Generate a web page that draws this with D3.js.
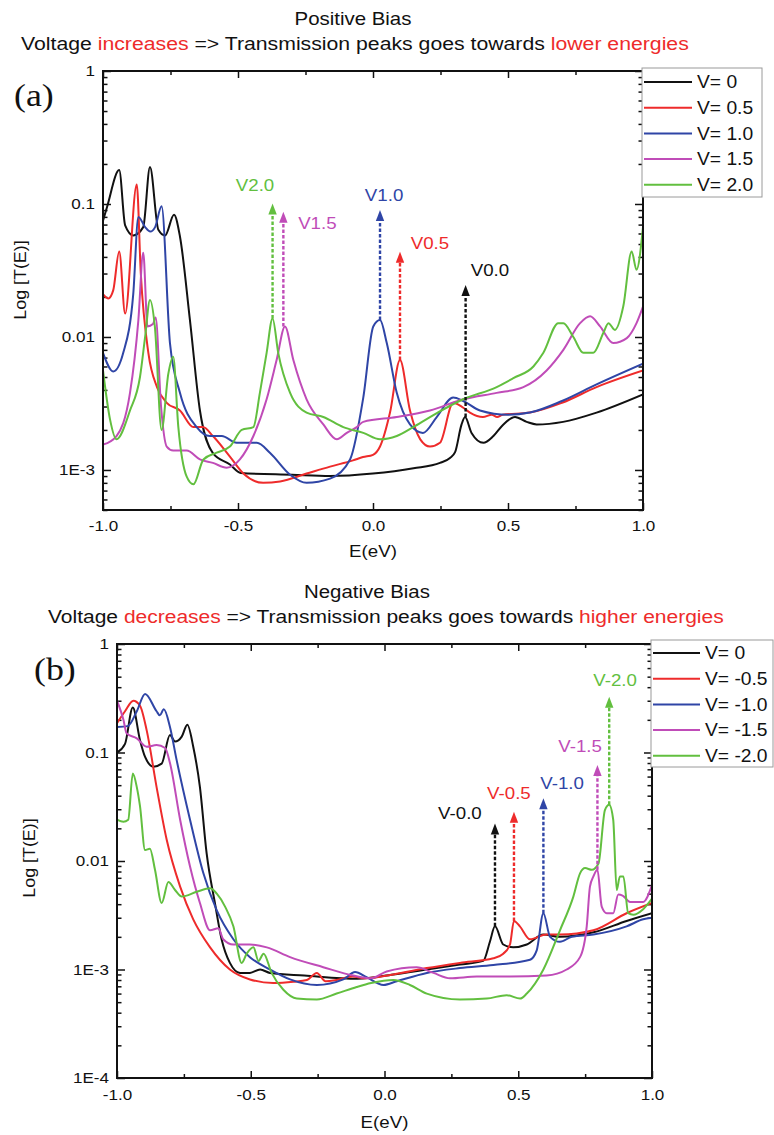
<!DOCTYPE html>
<html><head><meta charset="utf-8">
<script src="https://cdn.jsdelivr.net/npm/d3@7"></script>
<style>
body{margin:0;background:#fff}
svg{display:block}
</style>
</head><body>
<svg id="c" width="774" height="1135"></svg>
<script>
// ---------------- DATA ----------------
const xTickValues = [-1, -0.5, 0, 0.5, 1];
const xTickLabels = ["-1.0", "-0.5", "0.0", "0.5", "1.0"];
const xMinorValues = [-0.75, -0.25, 0.25, 0.75];
const posYTickValues = [1, 0.1, 0.01, 0.001];
const posYTickLabels = ["1", "0.1", "0.01", "1E-3"];
const negYTickValues = [1, 0.1, 0.01, 0.001, 0.0001];
const negYTickLabels = ["1", "0.1", "0.01", "1E-3", "1E-4"];
const posSeriesNames = ["V= 0", "V= 0.5", "V= 1.0", "V= 1.5", "V= 2.0"];
const negSeriesNames = ["V= 0", "V= -0.5", "V= -1.0", "V= -1.5", "V= -2.0"];
const seriesColors = ["#111111", "#ee2b2b", "#2f45a6", "#c04cb8", "#62bf3f"];

// Positive bias, [E (eV), T]
const pos_V0 = [[-1.0,0.075],[-0.985,0.095],[-0.94,0.18],[-0.918,0.069],[-0.888,0.058],[-0.851,0.067],[-0.826,0.19],[-0.795,0.064],[-0.77,0.058],[-0.737,0.083],[-0.715,0.057],[-0.678,0.0134],[-0.641,0.0028],[-0.593,0.00134],[-0.53,0.0011],[-0.49,0.00095],[-0.3,0.00092],[-0.159,0.0009],[0.0,0.00094],[0.15,0.00103],[0.248,0.00113],[0.285,0.00123],[0.304,0.00136],[0.328,0.0022],[0.341,0.0025],[0.365,0.0019],[0.409,0.0016],[0.446,0.0018],[0.483,0.0022],[0.526,0.0025],[0.569,0.0023],[0.606,0.0022],[0.704,0.0023],[0.828,0.0027],[1.0,0.0037]];
const pos_V05 = [[-1.0,0.021],[-0.98,0.0195],[-0.962,0.0225],[-0.94,0.044],[-0.918,0.015],[-0.875,0.14],[-0.86,0.03],[-0.832,0.0076],[-0.8,0.0042],[-0.764,0.0032],[-0.715,0.0028],[-0.665,0.0021],[-0.63,0.0021],[-0.593,0.0018],[-0.53,0.00126],[-0.48,0.00094],[-0.407,0.0008],[-0.344,0.00082],[-0.246,0.00094],[-0.159,0.00106],[-0.074,0.00118],[-0.037,0.00125],[0.0,0.0013],[0.026,0.0015],[0.063,0.0027],[0.1,0.0067],[0.137,0.0028],[0.175,0.0017],[0.211,0.0015],[0.248,0.0016],[0.297,0.0032],[0.328,0.003],[0.359,0.0027],[0.407,0.0025],[0.44,0.0026],[0.46,0.0025],[0.48,0.0026],[0.581,0.0027],[0.70,0.0032],[0.828,0.0042],[1.0,0.0056]];
const pos_V10 = [[-1.0,0.0076],[-0.962,0.0055],[-0.925,0.0076],[-0.888,0.021],[-0.869,0.08],[-0.844,0.067],[-0.825,0.062],[-0.807,0.067],[-0.783,0.096],[-0.752,0.009],[-0.715,0.0038],[-0.653,0.0021],[-0.604,0.0018],[-0.56,0.0018],[-0.505,0.0016],[-0.43,0.0016],[-0.381,0.00134],[-0.307,0.00092],[-0.246,0.0008],[-0.159,0.00086],[-0.085,0.0012],[-0.036,0.0035],[0.001,0.012],[0.026,0.0134],[0.051,0.009],[0.088,0.0038],[0.137,0.0022],[0.185,0.0019],[0.236,0.0025],[0.297,0.0035],[0.334,0.0033],[0.396,0.0028],[0.5,0.0026],[0.581,0.0027],[0.70,0.0033],[0.828,0.0044],[1.0,0.0063]];
const pos_V15 = [[-1.0,0.00155],[-0.95,0.0018],[-0.9,0.0038],[-0.869,0.0134],[-0.851,0.043],[-0.835,0.012],[-0.815,0.0125],[-0.805,0.014],[-0.785,0.003],[-0.764,0.0015],[-0.74,0.0014],[-0.69,0.0014],[-0.641,0.0012],[-0.593,0.00113],[-0.542,0.00104],[-0.493,0.0012],[-0.443,0.0018],[-0.394,0.0034],[-0.357,0.0067],[-0.326,0.012],[-0.295,0.0067],[-0.246,0.0034],[-0.184,0.0022],[-0.134,0.0017],[-0.097,0.0019],[-0.06,0.0021],[-0.036,0.0023],[0.088,0.0025],[0.211,0.0028],[0.334,0.0034],[0.458,0.0038],[0.557,0.0042],[0.643,0.0056],[0.705,0.008],[0.767,0.0127],[0.804,0.0143],[0.841,0.012],[0.89,0.009],[0.94,0.0098],[0.976,0.0127],[1.0,0.0169]];
const pos_V20 = [[-1.0,0.0056],[-0.974,0.0024],[-0.95,0.0017],[-0.9,0.0028],[-0.863,0.005],[-0.844,0.01],[-0.826,0.019],[-0.808,0.012],[-0.783,0.002],[-0.758,0.0053],[-0.74,0.0071],[-0.721,0.0021],[-0.69,0.00089],[-0.665,0.00078],[-0.628,0.0012],[-0.579,0.00135],[-0.53,0.0015],[-0.486,0.002],[-0.443,0.0021],[-0.419,0.0038],[-0.394,0.0076],[-0.372,0.0138],[-0.351,0.0076],[-0.307,0.0038],[-0.246,0.0027],[-0.184,0.0025],[-0.11,0.0021],[-0.036,0.0019],[0.026,0.0017],[0.088,0.0018],[0.149,0.0021],[0.211,0.0025],[0.334,0.0034],[0.458,0.0042],[0.52,0.0049],[0.594,0.006],[0.631,0.0076],[0.686,0.0127],[0.705,0.0127],[0.742,0.01],[0.779,0.0076],[0.816,0.0076],[0.853,0.0107],[0.872,0.0127],[0.896,0.0113],[0.927,0.017],[0.958,0.044],[0.976,0.032],[1.0,0.067]];

// Negative bias, [E (eV), T]
const neg_V0 = [[-1.0,0.10],[-0.97,0.12],[-0.941,0.26],[-0.914,0.13],[-0.895,0.091],[-0.864,0.074],[-0.833,0.079],[-0.802,0.145],[-0.783,0.126],[-0.758,0.14],[-0.737,0.18],[-0.715,0.113],[-0.69,0.048],[-0.665,0.0118],[-0.634,0.0041],[-0.609,0.0019],[-0.578,0.00115],[-0.54,0.00093],[-0.503,0.00093],[-0.465,0.001],[-0.428,0.00093],[-0.3,0.00088],[-0.1,0.00082],[0.033,0.0009],[0.158,0.001],[0.282,0.00111],[0.369,0.0012],[0.394,0.0018],[0.413,0.0025],[0.444,0.0017],[0.481,0.0016],[0.532,0.0017],[0.594,0.0021],[0.656,0.002],[0.781,0.0022],[0.905,0.0028],[1.0,0.0033]];
const neg_V05 = [[-1.0,0.186],[-0.97,0.24],[-0.939,0.30],[-0.914,0.27],[-0.889,0.16],[-0.852,0.048],[-0.814,0.0156],[-0.764,0.0058],[-0.715,0.0029],[-0.652,0.0016],[-0.578,0.001],[-0.503,0.00081],[-0.416,0.00075],[-0.34,0.00077],[-0.29,0.0008],[-0.253,0.00093],[-0.22,0.00078],[-0.18,0.0008],[-0.12,0.00086],[-0.07,0.00083],[0.033,0.0009],[0.158,0.00103],[0.282,0.00115],[0.407,0.00127],[0.444,0.0014],[0.469,0.0017],[0.484,0.0028],[0.506,0.0025],[0.544,0.0019],[0.606,0.0021],[0.656,0.0021],[0.781,0.0023],[0.905,0.0033],[1.0,0.0041]];
const neg_V10 = [[-1.0,0.172],[-0.96,0.175],[-0.926,0.24],[-0.895,0.346],[-0.852,0.24],[-0.84,0.22],[-0.825,0.25],[-0.802,0.172],[-0.777,0.085],[-0.727,0.024],[-0.677,0.0077],[-0.627,0.0035],[-0.565,0.0019],[-0.503,0.0013],[-0.428,0.001],[-0.353,0.00081],[-0.253,0.00072],[-0.154,0.00081],[-0.11,0.00095],[-0.067,0.00085],[-0.004,0.00072],[0.046,0.00078],[0.158,0.00093],[0.282,0.00103],[0.407,0.0011],[0.544,0.00123],[0.569,0.0015],[0.594,0.0033],[0.619,0.002],[0.656,0.0018],[0.70,0.002],[0.781,0.0021],[0.905,0.0025],[0.967,0.0029],[1.0,0.003]];
const neg_V15 = [[-1.0,0.30],[-0.976,0.2],[-0.964,0.15],[-0.926,0.135],[-0.889,0.113],[-0.852,0.117],[-0.82,0.11],[-0.802,0.08],[-0.764,0.024],[-0.727,0.0089],[-0.69,0.0041],[-0.652,0.0023],[-0.621,0.0024],[-0.603,0.0019],[-0.565,0.0017],[-0.503,0.0017],[-0.44,0.0016],[-0.353,0.0013],[-0.229,0.00105],[-0.117,0.00088],[-0.05,0.00083],[0.008,0.00096],[0.12,0.00105],[0.183,0.00093],[0.245,0.00083],[0.345,0.00086],[0.469,0.00086],[0.606,0.00088],[0.681,0.001],[0.731,0.0013],[0.756,0.0025],[0.768,0.0058],[0.781,0.0072],[0.796,0.0083],[0.812,0.0038],[0.831,0.0033],[0.855,0.0033],[0.874,0.0049],[0.89,0.0048],[0.918,0.0042],[0.967,0.0042],[1.0,0.006]];
const neg_V20 = [[-1.0,0.024],[-0.976,0.023],[-0.958,0.024],[-0.941,0.064],[-0.926,0.048],[-0.914,0.032],[-0.895,0.0126],[-0.877,0.013],[-0.858,0.0083],[-0.833,0.0041],[-0.808,0.0064],[-0.783,0.0054],[-0.758,0.0047],[-0.702,0.0052],[-0.652,0.0056],[-0.627,0.005],[-0.596,0.0038],[-0.565,0.0025],[-0.534,0.00115],[-0.515,0.0014],[-0.49,0.0016],[-0.471,0.0012],[-0.452,0.0014],[-0.422,0.00093],[-0.378,0.00065],[-0.328,0.00054],[-0.253,0.00053],[-0.179,0.0006],[-0.104,0.00069],[-0.05,0.00075],[0.033,0.0008],[0.095,0.00072],[0.158,0.0006],[0.282,0.00053],[0.382,0.00054],[0.457,0.00058],[0.507,0.00054],[0.532,0.0006],[0.594,0.001],[0.656,0.0023],[0.706,0.0047],[0.731,0.0077],[0.75,0.0086],[0.775,0.0083],[0.80,0.0095],[0.824,0.0295],[0.84,0.033],[0.855,0.024],[0.868,0.0054],[0.88,0.0072],[0.893,0.0072],[0.911,0.0033],[0.93,0.0032],[0.967,0.0036],[1.0,0.0045]];

// Peak arrows
const posArrowLabels = ["V0.0", "V0.5", "V1.0", "V1.5", "V2.0"];
const posArrowE = [0.343, 0.1, 0.026, -0.332, -0.372];
const posArrowBaseT = [0.0025, 0.0067, 0.0134, 0.012, 0.0138];
const posArrowTipT = [0.0246, 0.0438, 0.090, 0.0875, 0.101];
const posLabelE = [0.433, 0.211, 0.041, -0.206, -0.437];
const posLabelT = [0.0319, 0.0509, 0.117, 0.072, 0.139];

const negArrowLabels = ["V-0.0", "V-0.5", "V-1.0", "V-1.5", "V-2.0"];
const negArrowE = [0.413, 0.484, 0.594, 0.796, 0.84];
const negArrowBaseT = [0.0025, 0.0028, 0.0033, 0.0083, 0.033];
const negArrowTipT = [0.0222, 0.0285, 0.0378, 0.0767, 0.327];
const negLabelE = [0.282, 0.465, 0.664, 0.731, 0.862];
const negLabelT = [0.0275, 0.0426, 0.0527, 0.115, 0.466];

// ---------------- DRAWING ----------------
const SX = 1.1; // horizontal stretch of the original figure's text
const svg = d3.select("#c");
const FONT = '"Liberation Sans",Arial,sans-serif';
const SERIF = '"Liberation Serif","Times New Roman",serif';

function stretchText(sel) {
  sel.each(function () {
    const t = d3.select(this);
    const x = +t.attr("x") || 0, y = +t.attr("y") || 0;
    t.attr("x", null).attr("y", null)
     .attr("transform", `translate(${x},${y}) scale(${SX},1)`);
  });
}

function titleLine(parts, cx, baseline, size, targetW) {
  const t = svg.append("text").style("font-family", FONT).attr("font-size", size).attr("text-anchor", "start");
  parts.forEach(p => t.append("tspan").attr("fill", p[1]).text(p[0]));
  const w = t.node().getComputedTextLength();
  const s = targetW / w;
  t.attr("transform", `translate(${cx - targetW / 2},${baseline}) scale(${s},1)`);
}

function drawPanel(cfg) {
  const x = d3.scaleLinear().domain([-1, 1]).range([cfg.x0, cfg.x1]);
  const y = d3.scaleLog().domain(cfg.yDomain).range([cfg.y1, cfg.y0]);
  const g = svg.append("g").style("font-family", FONT);

  const clipId = "clip" + cfg.id;
  svg.append("clipPath").attr("id", clipId).append("rect")
    .attr("x", cfg.x0).attr("y", cfg.y0).attr("width", cfg.x1 - cfg.x0).attr("height", cfg.y1 - cfg.y0);

  // log ticks (major + minor)
  const lo = Math.floor(Math.log10(cfg.yDomain[0])), hi = 0;
  const minorY = [];
  for (let k = lo; k < hi; k++) for (let m = 2; m <= 9; m++) {
    const v = m * Math.pow(10, k);
    if (v >= cfg.yDomain[0] * 0.999 && v <= cfg.yDomain[1]) minorY.push(v);
  }
  const labelMap = new Map(cfg.yTickValues.map((v, i) => [v, cfg.yTickLabels[i]]));
  const xLabelMap = new Map(xTickValues.map((v, i) => [v, xTickLabels[i]]));

  const gxb = g.append("g").attr("transform", `translate(0,${cfg.y1})`)
    .call(d3.axisBottom(x).tickValues(xTickValues).tickFormat(d => xLabelMap.get(d)).tickSizeInner(-7).tickSizeOuter(0).tickPadding(cfg.xPad));
  gxb.append("g").call(d3.axisBottom(x).tickValues(xMinorValues).tickFormat("").tickSizeInner(-4).tickSizeOuter(0));
  const gxt = g.append("g").attr("transform", `translate(0,${cfg.y0})`)
    .call(d3.axisTop(x).tickValues(xTickValues).tickFormat("").tickSizeInner(-7).tickSizeOuter(0));
  gxt.append("g").call(d3.axisTop(x).tickValues(xMinorValues).tickFormat("").tickSizeInner(-4).tickSizeOuter(0));
  const gyl = g.append("g").attr("transform", `translate(${cfg.x0},0)`)
    .call(d3.axisLeft(y).tickValues(cfg.yTickValues).tickFormat(d => labelMap.get(d)).tickSizeInner(-8).tickSizeOuter(0).tickPadding(8));
  gyl.append("g").call(d3.axisLeft(y).tickValues(minorY).tickFormat("").tickSizeInner(-4.5).tickSizeOuter(0));
  const gyr = g.append("g").attr("transform", `translate(${cfg.x1},0)`)
    .call(d3.axisRight(y).tickValues(cfg.yTickValues).tickFormat("").tickSizeInner(-8).tickSizeOuter(0));
  gyr.append("g").call(d3.axisRight(y).tickValues(minorY).tickFormat("").tickSizeInner(-4.5).tickSizeOuter(0));

  g.selectAll(".domain").remove();
  g.selectAll(".tick line").attr("stroke", "#111").attr("stroke-width", 1.5);
  g.selectAll(".tick text").attr("font-size", 15.5).attr("font-family", null).attr("fill", "#111");
  gxb.selectAll(".tick text").attr("transform", `scale(${SX},1)`);
  gyl.selectAll(".tick text").each(function () {
    const t = d3.select(this);
    const xx = +t.attr("x");
    t.attr("x", 0).attr("transform", `translate(${xx},0) scale(${SX},1)`);
  });

  // curves
  const line = d3.line().x(d => x(d[0])).y(d => y(d[1])).curve(d3.curveMonotoneX);
  const cg = g.append("g").attr("clip-path", `url(#${clipId})`);
  cfg.series.forEach((s, i) => {
    cg.append("path").datum(s).attr("d", line).attr("fill", "none")
      .attr("stroke", seriesColors[i]).attr("stroke-width", 2).attr("stroke-linejoin", "round");
  });

  // frame
  g.append("rect").attr("x", cfg.x0).attr("y", cfg.y0).attr("width", cfg.x1 - cfg.x0).attr("height", cfg.y1 - cfg.y0)
    .attr("fill", "none").attr("stroke", "#111").attr("stroke-width", 2);

  // arrows
  cfg.arrowE.forEach((e, i) => {
    const col = seriesColors[i];
    const ax = x(e), yb = y(cfg.arrowBaseT[i]), yt = y(cfg.arrowTipT[i]);
    g.append("line").attr("x1", ax).attr("x2", ax).attr("y1", yb).attr("y2", yt + 8)
      .attr("stroke", col).attr("stroke-width", 2.4).attr("stroke-dasharray", "3.5,2");
    g.append("path").attr("d", `M${ax},${yt} L${ax - 4.2},${yt + 11} L${ax + 4.2},${yt + 11} Z`).attr("fill", col);
    const lt = g.append("text").attr("x", x(cfg.labelE[i])).attr("y", y(cfg.labelT[i]))
      .attr("dy", "0.36em").attr("text-anchor", "middle").attr("font-size", 17).attr("fill", col)
      .text(cfg.arrowLabels[i]);
    stretchText(lt);
  });

  // legend
  const L = cfg.legend;
  g.append("rect").attr("x", L.x).attr("y", L.y).attr("width", L.w).attr("height", L.h)
    .attr("fill", "#fff").attr("stroke", "#9a9a9a").attr("stroke-width", 1);
  cfg.names.forEach((n, i) => {
    const yy = L.y + L.first + i * L.step;
    g.append("line").attr("x1", L.x + 2).attr("x2", L.x + L.lineW).attr("y1", yy).attr("y2", yy)
      .attr("stroke", seriesColors[i]).attr("stroke-width", 2);
    const t = g.append("text").attr("x", L.x + L.lineW + 5).attr("y", yy).attr("dy", "0.36em")
      .attr("font-size", 17.5).attr("fill", "#111").text(n);
    stretchText(t);
  });

  // axis titles
  const xt = g.append("text").attr("x", (cfg.x0 + cfg.x1) / 2).attr("y", cfg.xTitleY)
    .attr("text-anchor", "middle").attr("font-size", 17).attr("fill", "#111").text("E(eV)");
  stretchText(xt);
  g.append("text").attr("transform", `translate(${cfg.yTitleX},${cfg.yTitleY}) rotate(-90) scale(1.05,1)`)
    .attr("text-anchor", "middle").attr("font-size", 17).attr("fill", "#111").text("Log [T(E)]");

  // panel label
  g.append("text").attr("transform", `translate(${cfg.tagX},${cfg.tagY}) scale(1.12,1)`)
    .style("font-family", SERIF).attr("font-size", 32).attr("fill", "#111").text(cfg.tag);
}

// titles
titleLine([["Positive Bias", "#111"]], 353, 25, 18.5, 117);
titleLine([["Voltage ", "#111"], ["increases", "#ee2b2b"], [" => Transmission peaks goes towards ", "#111"], ["lower energies", "#ee2b2b"]], 355, 50, 18.5, 668);
titleLine([["Negative Bias", "#111"]], 367, 598, 18.5, 126);
titleLine([["Voltage ", "#111"], ["decreases", "#ee2b2b"], [" => Transmission peaks goes towards ", "#111"], ["higher energies", "#ee2b2b"]], 386, 623, 18.5, 676);

drawPanel({
  id: "a", x0: 103, x1: 643, y0: 71, y1: 510, yDomain: [5e-4, 1],
  yTickValues: posYTickValues, yTickLabels: posYTickLabels, xPad: 10,
  series: [pos_V0, pos_V05, pos_V10, pos_V15, pos_V20], names: posSeriesNames,
  arrowE: posArrowE, arrowBaseT: posArrowBaseT, arrowTipT: posArrowTipT,
  labelE: posLabelE, labelT: posLabelT, arrowLabels: posArrowLabels,
  legend: { x: 642, y: 68, w: 120, h: 129, first: 14, step: 25.7, lineW: 50 },
  xTitleY: 557, yTitleX: 26, yTitleY: 280, tag: "(a)", tagX: 14, tagY: 106
});
drawPanel({
  id: "b", x0: 117, x1: 652, y0: 644, y1: 1078, yDomain: [1e-4, 1],
  yTickValues: negYTickValues, yTickLabels: negYTickLabels, xPad: 11,
  series: [neg_V0, neg_V05, neg_V10, neg_V15, neg_V20], names: negSeriesNames,
  arrowE: negArrowE, arrowBaseT: negArrowBaseT, arrowTipT: negArrowTipT,
  labelE: negLabelE, labelT: negLabelT, arrowLabels: negArrowLabels,
  legend: { x: 651, y: 640, w: 122, h: 127, first: 13, step: 25.7, lineW: 49 },
  xTitleY: 1128, yTitleX: 35, yTitleY: 858, tag: "(b)", tagX: 34, tagY: 680
});
</script>
</body></html>
